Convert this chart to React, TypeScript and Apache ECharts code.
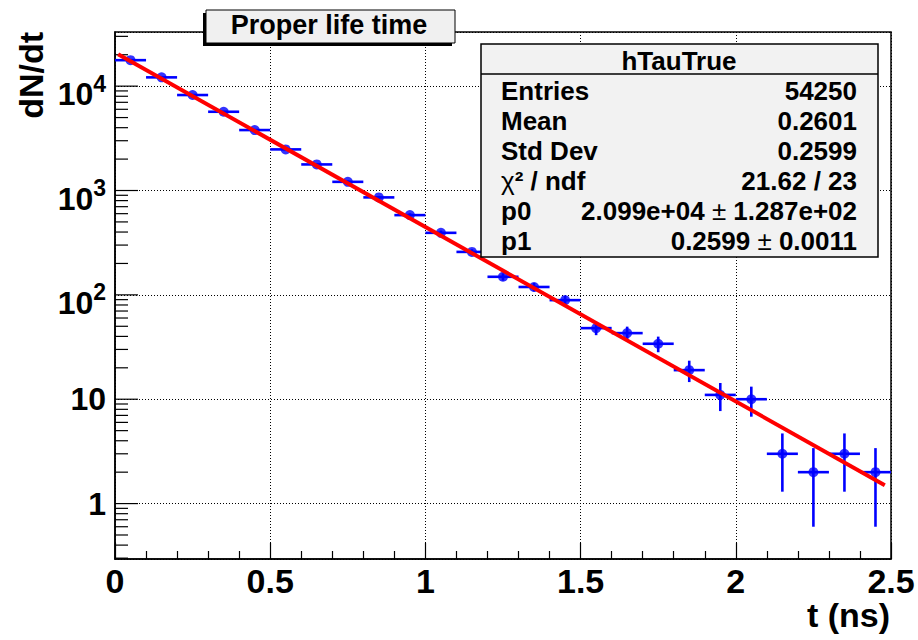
import React, { useEffect, useRef } from "react";
import * as echarts from "echarts";

// ---- data ----
const BIN_CENTERS = [0.05, 0.15, 0.25, 0.35, 0.45, 0.55, 0.65, 0.75, 0.85, 0.95, 1.05, 1.15, 1.25, 1.35, 1.45, 1.55, 1.65, 1.75, 1.85, 1.95, 2.05, 2.15, 2.25, 2.35, 2.45];
const COUNTS = [17740, 12140, 8220, 5684, 3795, 2477, 1778, 1211, 859, 581, 393, 258, 149, 119, 89, 48, 43, 34, 19, 11, 10, 3, 2, 3, 2];
const ERRORS = [133, 110, 91, 75, 62, 50, 42, 35, 29, 24, 20, 16, 12, 11, 9.4, 6.9, 6.6, 5.8, 4.4, 3.3, 3.2, 1.7, 1.4, 1.7, 1.4];
const BIN_HALF_WIDTH = 0.05;

const FIT_T = [0.01, 2.48];
const FIT_N = [20200, 1.5];

const X_MIN = 0;
const X_MAX = 2.5;
const X_INTERVAL = 0.5;
const Y_MIN = 0.2944;
const Y_MAX = 33030;

const Y_MAJOR_TICKS = [1, 10, 100, 1000, 10000];
const Y_MINOR_MULT = [2, 3, 4, 5, 6, 7, 8, 9];
const Y_DECADES = [0.1, 1, 10, 100, 1000, 10000];

const TITLE = "Proper life time";
const STATS_NAME = "hTauTrue";
const STATS_LABELS = ["Entries", "Mean", "Std Dev", "{chi|χ}² / ndf", "p0", "p1"];
const STATS_VALUES = ["54250", "0.2601", "0.2599", "21.62 / 23", "2.099e+04 {pm|±} 1.287e+02", "0.2599 {pm|±} 0.0011"];
const X_TITLE = "t (ns)";
const Y_TITLE = "dN/dt";

const FONT = "'Liberation Sans', Arial, Helvetica, sans-serif";

export default function App() {
  const ref = useRef<HTMLDivElement>(null);

  useEffect(() => {
    if (!ref.current) return;
    const chart = echarts.init(ref.current, null, { renderer: "svg" });

    const minorTicks: number[][] = [];
    Y_DECADES.forEach((d) =>
      Y_MINOR_MULT.forEach((m) => {
        const v = d * m;
        if (v > Y_MIN && v < Y_MAX) minorTicks.push([0, v]);
      })
    );
    const majorTicks = Y_MAJOR_TICKS.map((v) => [0, v]);

    const tickSeries = (data: number[][], len: number) => ({
      type: "custom",
      silent: true,
      clip: false,
      z: 5,
      encode: { x: 0, y: 1 },
      data,
      renderItem: (params: any, api: any) => {
        const p = api.coord([0, api.value(1)]);
        return {
          type: "line",
          shape: { x1: p[0], y1: p[1], x2: p[0] + len, y2: p[1] },
          style: { stroke: "#000", lineWidth: 1.2 },
        };
      },
    });

    const isPow10 = (v: number) => {
      const l = Math.log10(v);
      return Math.abs(l - Math.round(l)) < 1e-6;
    };

    const statsTexts: any[] = [];
    STATS_LABELS.forEach((lab, i) => {
      const y = 91 + i * 30;
      statsTexts.push({
        type: "text",
        x: 501,
        y,
        z: 101,
        style: {
          text: lab,
          font: `bold 26px ${FONT}`,
          fill: "#000",
          align: "left",
          verticalAlign: "middle",
          rich: {
            chi: { font: `normal 26px ${FONT}`, fill: "#000" },
          },
        },
      });
      statsTexts.push({
        type: "text",
        x: 857,
        y,
        z: 101,
        style: {
          text: STATS_VALUES[i],
          font: `bold 26px ${FONT}`,
          fill: "#000",
          align: "right",
          verticalAlign: "middle",
          rich: {
            pm: { font: `normal 26px ${FONT}`, fill: "#000" },
          },
        },
      });
    });

    const option: any = {
      animation: false,
      backgroundColor: "#fff",
      grid: {
        left: 115,
        right: 27,
        top: 32,
        bottom: 81,
        show: true,
        borderColor: "#000",
        borderWidth: 1.5,
        backgroundColor: "transparent",
      },
      xAxis: {
        type: "value",
        min: X_MIN,
        max: X_MAX,
        interval: X_INTERVAL,
        axisLine: { onZero: false, lineStyle: { color: "#000", width: 1.5 } },
        axisTick: { show: true, inside: true, length: 16, lineStyle: { color: "#000", width: 1.2 } },
        minorTick: { show: true, splitNumber: 5, length: 8, lineStyle: { color: "#000", width: 1.2 } },
        axisLabel: {
          fontFamily: FONT,
          fontWeight: "bold",
          fontSize: 34,
          color: "#000",
          margin: 5,
        },
        splitLine: { show: true, lineStyle: { color: "#000", width: 1, type: [1, 2] } },
      },
      yAxis: {
        type: "log",
        logBase: 10,
        min: Y_MIN,
        max: Y_MAX,
        axisLine: { show: true, onZero: false, lineStyle: { color: "#000", width: 1.5 } },
        axisTick: { show: false },
        axisLabel: {
          margin: 9,
          formatter: (v: number) => {
            if (!isPow10(v)) return "";
            const k = Math.round(Math.log10(v));
            if (k === 0) return "{b|1}";
            if (k === 1) return "{b|10}";
            return "{bp|10}{s|" + k + "}";
          },
          rich: {
            b: { fontFamily: FONT, fontWeight: "bold", fontSize: 32, color: "#000", lineHeight: 34 },
            bp: { fontFamily: FONT, fontWeight: "bold", fontSize: 32, color: "#000", lineHeight: 32, padding: [16, 0, 0, 0] },
            s: { fontFamily: FONT, fontWeight: "bold", fontSize: 23, color: "#000", lineHeight: 18, verticalAlign: "top", padding: [2, 0, 0, 0] },
          },
        },
        splitLine: { show: true, lineStyle: { color: "#000", width: 1, type: [1, 2] } },
      },
      series: [
        tickSeries(majorTicks, 23),
        tickSeries(minorTicks, 13),
        {
          type: "custom",
          silent: true,
          z: 10,
          encode: { x: 0, y: 1 },
          data: BIN_CENTERS.map((t, i) => [t, COUNTS[i], ERRORS[i]]),
          renderItem: (params: any, api: any) => {
            const t = api.value(0);
            const n = api.value(1);
            const e = api.value(2);
            const l = api.coord([t - BIN_HALF_WIDTH, n]);
            const r = api.coord([t + BIN_HALF_WIDTH, n]);
            const hi = api.coord([t, n + e]);
            const lo = api.coord([t, n - e]);
            return {
              type: "group",
              children: [
                { type: "line", shape: { x1: l[0], y1: l[1], x2: r[0], y2: r[1] }, style: { stroke: "#0000ff", lineWidth: 2.6 } },
                { type: "line", shape: { x1: hi[0], y1: hi[1], x2: lo[0], y2: lo[1] }, style: { stroke: "#0000ff", lineWidth: 2.6 } },
              ],
            };
          },
        },
        {
          type: "scatter",
          silent: true,
          z: 11,
          symbol: "circle",
          symbolSize: 10,
          itemStyle: { color: "#0000ff" },
          data: BIN_CENTERS.map((t, i) => [t, COUNTS[i]]),
        },
        {
          type: "line",
          silent: true,
          z: 12,
          symbol: "none",
          lineStyle: { color: "#ff0000", width: 4 },
          data: FIT_T.map((t, i) => [t, FIT_N[i]]),
        },
      ],
      graphic: [
        // title pave
        { type: "rect", z: 100, shape: { x: 203, y: 13, width: 249, height: 33 }, style: { fill: "#000" } },
        { type: "rect", z: 100, shape: { x: 206, y: 10, width: 249, height: 33 }, style: { fill: "#f0f0f0", stroke: "#000", lineWidth: 1 } },
        {
          type: "text",
          z: 101,
          x: 329,
          y: 25,
          style: { text: TITLE, font: `bold 27px ${FONT}`, fill: "#000", align: "center", verticalAlign: "middle" },
        },
        // stats box
        { type: "rect", z: 100, shape: { x: 481, y: 44, width: 397, height: 213 }, style: { fill: "#f2f2f2", stroke: "#000", lineWidth: 1.5 } },
        { type: "line", z: 101, shape: { x1: 481, y1: 74, x2: 878, y2: 74 }, style: { stroke: "#000", lineWidth: 1.5 } },
        {
          type: "text",
          z: 101,
          x: 679,
          y: 61,
          style: { text: STATS_NAME, font: `bold 26px ${FONT}`, fill: "#000", align: "center", verticalAlign: "middle" },
        },
        ...statsTexts,
        // axis titles
        {
          type: "text",
          z: 101,
          x: 890,
          y: 615,
          style: { text: X_TITLE, font: `bold 34px ${FONT}`, fill: "#000", align: "right", verticalAlign: "middle" },
        },
        {
          type: "text",
          z: 101,
          x: 31,
          y: 32,
          rotation: Math.PI / 2,
          style: { text: Y_TITLE, font: `bold 34px ${FONT}`, fill: "#000", align: "right", verticalAlign: "middle" },
        },
      ],
    };

    chart.setOption(option);
    return () => chart.dispose();
  }, []);

  return (
    <div
      ref={ref}
      style={{ position: "absolute", left: 0, top: 0, width: 918, height: 640, background: "#fff" }}
    />
  );
}
